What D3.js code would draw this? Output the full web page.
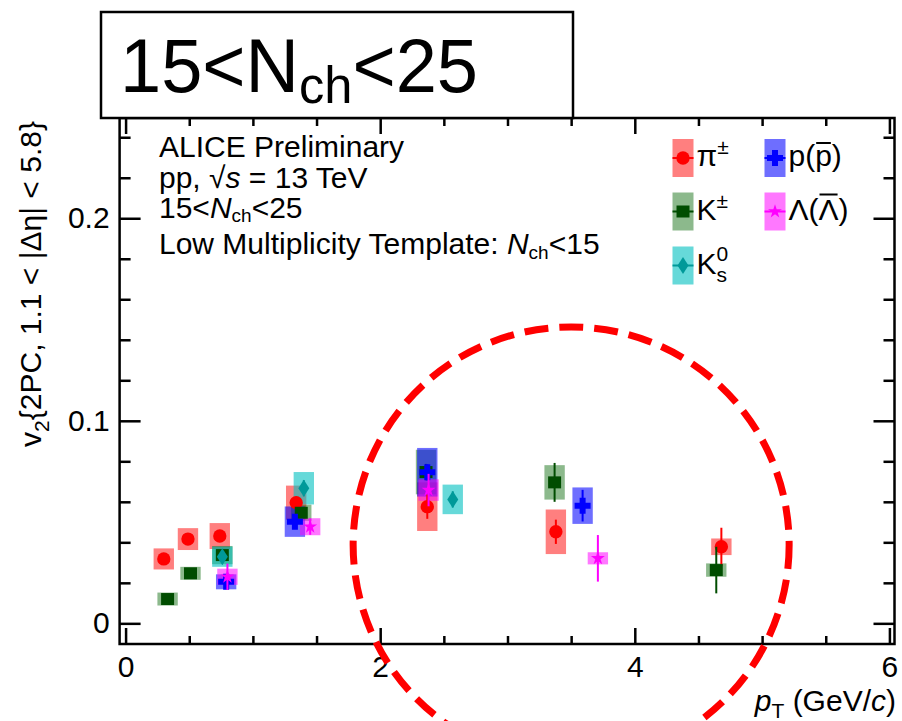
<!DOCTYPE html>
<html>
<head>
<meta charset="utf-8">
<script src="https://cdn.jsdelivr.net/npm/d3@7"></script>
<style>
  html, body { margin: 0; padding: 0; background: #fff; }
  svg { display: block; font-family: "Liberation Sans", Arial, Helvetica, sans-serif; }
</style>
</head>
<body>
<svg id="chart" width="902" height="721"></svg>
<script>
// ---- data: v2{2PC} vs pT for identified hadrons, 15<Nch<25 ----
const pionPt   = [0.30, 0.49, 0.74, 1.34, 2.37, 3.38, 4.68];
const pionV2   = [0.0318, 0.0416, 0.0431, 0.0596, 0.0576, 0.0452, 0.0378];
const pionStat = [0.0020, 0.0020, 0.0020, 0.0030, 0.0060, 0.0060, 0.0094];
const pionSys  = [0.0052, 0.0054, 0.0064, 0.0084, 0.0120, 0.0110, 0.0041];

const kaonPt   = [0.33, 0.51, 0.76, 1.38, 2.36, 3.37, 4.64];
const kaonV2   = [0.0120, 0.0247, 0.0337, 0.0546, 0.0747, 0.0696, 0.0263];
const kaonStat = [0.0010, 0.0010, 0.0015, 0.0020, 0.0040, 0.0096, 0.0115];
const kaonSys  = [0.0032, 0.0032, 0.0045, 0.0040, 0.0110, 0.0085, 0.0033];

const k0sPt    = [0.76, 1.40, 2.57];
const k0sV2    = [0.0329, 0.0667, 0.0612];
const k0sStat  = [0.0020, 0.0040, 0.0040];
const k0sSys   = [0.0050, 0.0080, 0.0073];

const protonPt   = [0.79, 1.33, 2.37, 3.59];
const protonV2   = [0.0205, 0.0502, 0.0746, 0.0581];
const protonStat = [0.0020, 0.0030, 0.0040, 0.0078];
const protonSys  = [0.0037, 0.0075, 0.0120, 0.0090];

const lambdaPt   = [0.80, 1.45, 2.38, 3.71];
const lambdaV2   = [0.0230, 0.0477, 0.0658, 0.0321];
const lambdaStat = [0.0065, 0.0040, 0.0080, 0.0115];
const lambdaSys  = [0.0040, 0.0042, 0.0053, 0.0030];

const xTickValues = [0, 2, 4, 6];
const xTickLabels = ["0", "2", "4", "6"];
const yTickValues = [0, 0.1, 0.2];
const yTickLabels = ["0", "0.1", "0.2"];

// region highlighted by the dashed ring (centre in pT, v2)
const ringCentre = [3.50, 0.0387];

// ---- layout ----
const svg = d3.select("#chart");
const frame = { left: 119.6, right: 894.5, top: 118, bottom: 644 };
const x = d3.scaleLinear().domain([-0.047, 6.04]).range([frame.left, frame.right]);
const y = d3.scaleLinear().domain([-0.0102, 0.2495]).range([frame.bottom, frame.top]);
const FS = 30;          // annotation font size
const sysHalfWidth = 0.08;

const series = [
  { pt: pionPt,   v2: pionV2,   stat: pionStat,   sys: pionSys,   color: "#ff0000", box: "#ff0000", op: 0.50, shape: "circle"  },
  { pt: kaonPt,   v2: kaonV2,   stat: kaonStat,   sys: kaonSys,   color: "#004d00", box: "#006400", op: 0.45, shape: "square"  },
  { pt: k0sPt,    v2: k0sV2,    stat: k0sStat,    sys: k0sSys,    color: "#009999", box: "#00c0c0", op: 0.60, shape: "diamond" },
  { pt: protonPt, v2: protonV2, stat: protonStat, sys: protonSys, color: "#0000ff", box: "#0000ff", op: 0.57, shape: "cross"   },
  { pt: lambdaPt, v2: lambdaV2, stat: lambdaStat, sys: lambdaSys, color: "#ff00ff", box: "#ff00ff", op: 0.53, shape: "star"    }
];

function markerPath(shape) {
  switch (shape) {
    case "circle":  return d3.symbol(d3.symbolCircle, 140)();
    case "square":  return "M-6.5,-6 H6.5 V6 H-6.5 Z";
    case "diamond": return "M0,-8.5 L5.5,0 L0,8.5 L-5.5,0 Z";
    case "cross":   return "M-3,-8 H3 V-3 H8 V3 H3 V8 H-3 V3 H-8 V-3 H-3 Z";
    case "star":    return d3.symbol(d3.symbolStar, 60)();
  }
}

// ---- systematic boxes (all drawn first) ----
const gBoxes = svg.append("g");
series.forEach(s => {
  gBoxes.selectAll(null).data(d3.range(s.pt.length)).join("rect")
    .attr("x", i => x(s.pt[i] - sysHalfWidth))
    .attr("width", i => x(s.pt[i] + sysHalfWidth) - x(s.pt[i] - sysHalfWidth))
    .attr("y", i => y(s.v2[i] + s.sys[i]))
    .attr("height", i => y(s.v2[i] - s.sys[i]) - y(s.v2[i] + s.sys[i]))
    .attr("fill", s.box).attr("fill-opacity", s.op);
});

// ---- statistical error bars and markers ----
const gPts = svg.append("g");
series.forEach(s => {
  const idx = d3.range(s.pt.length);
  gPts.selectAll(null).data(idx).join("line")
    .attr("x1", i => x(s.pt[i])).attr("x2", i => x(s.pt[i]))
    .attr("y1", i => y(s.v2[i] + s.stat[i])).attr("y2", i => y(s.v2[i] - s.stat[i]))
    .attr("stroke", s.color).attr("stroke-width", 2);
  gPts.selectAll(null).data(idx).join("path")
    .attr("d", markerPath(s.shape))
    .attr("transform", i => `translate(${x(s.pt[i])},${y(s.v2[i])})`)
    .attr("fill", s.color);
});

// ---- axes: ROOT style ticks on all four sides, pointing inward ----
function styleAxis(g) {
  g.select(".domain").remove();
  g.selectAll(".tick line").attr("stroke", "#000").attr("stroke-width", 2.5);
  g.selectAll(".tick text").attr("font-size", FS).attr("fill", "#000")
    .attr("font-family", "'Liberation Sans', Arial, sans-serif");
}
const xMinor = d3.range(0, 6.001, 0.5).filter(v => v % 2 !== 0);
const yMinor = d3.range(0, 0.2401, 0.02).map(v => +v.toFixed(2)).filter(v => Math.abs(v * 10 - Math.round(v * 10)) > 1e-6);

svg.append("g").attr("transform", `translate(0,${frame.bottom})`)
  .call(d3.axisBottom(x).tickValues(xTickValues).tickFormat((d, i) => xTickLabels[i]).tickSize(-16).tickPadding(12))
  .call(styleAxis);
svg.append("g").attr("transform", `translate(0,${frame.bottom})`)
  .call(d3.axisBottom(x).tickValues(xMinor).tickFormat("").tickSize(-8)).call(styleAxis);
svg.append("g").attr("transform", `translate(0,${frame.top})`)
  .call(d3.axisTop(x).tickValues(xTickValues).tickFormat("").tickSize(-16)).call(styleAxis);
svg.append("g").attr("transform", `translate(0,${frame.top})`)
  .call(d3.axisTop(x).tickValues(xMinor).tickFormat("").tickSize(-8)).call(styleAxis);

svg.append("g").attr("transform", `translate(${frame.left},0)`)
  .call(d3.axisLeft(y).tickValues(yTickValues).tickFormat((d, i) => yTickLabels[i]).tickSize(-21).tickPadding(10))
  .call(styleAxis);
svg.append("g").attr("transform", `translate(${frame.left},0)`)
  .call(d3.axisLeft(y).tickValues(yMinor).tickFormat("").tickSize(-11)).call(styleAxis);
svg.append("g").attr("transform", `translate(${frame.right},0)`)
  .call(d3.axisRight(y).tickValues(yTickValues).tickFormat("").tickSize(-21)).call(styleAxis);
svg.append("g").attr("transform", `translate(${frame.right},0)`)
  .call(d3.axisRight(y).tickValues(yMinor).tickFormat("").tickSize(-11)).call(styleAxis);

svg.append("rect")
  .attr("x", frame.left).attr("y", frame.top)
  .attr("width", frame.right - frame.left).attr("height", frame.bottom - frame.top)
  .attr("fill", "none").attr("stroke", "#000").attr("stroke-width", 2.5);

// ---- rich text helper (italic, sub- and superscripts) ----
function rich(sel, px, py, parts, size, anchor) {
  const t = sel.append("text").attr("x", px).attr("y", py)
    .attr("font-size", size).attr("text-anchor", anchor || "start").attr("fill", "#000");
  let shift = 0;
  parts.forEach(p => {
    const target = p.sub ? p.sub : (p.sup ? -p.sup : 0);
    const ts = t.append("tspan").text(p.t).attr("dy", target - shift);
    shift = target;
    if (p.size) ts.attr("font-size", p.size);
    if (p.it) ts.attr("font-style", "italic");
    if (p.dx) ts.attr("dx", p.dx);
  });
  return t;
}
const SUB = Math.round(FS * 0.7);

// axis titles
rich(svg, 896, 711, [
  { t: "p", it: true }, { t: "T", sub: 7, size: SUB }, { t: " (GeV/" }, { t: "c", it: true }, { t: ")" }
], FS, "end");

rich(svg.append("g").attr("transform", "translate(41,284) rotate(-90)"), 0, 0, [
  { t: "v" }, { t: "2", sub: 8, size: SUB }, { t: "{2PC, 1.1 < |\u0394\u03b7| < 5.8}" }
], FS, "middle");

// ---- annotation block ----
const gTxt = svg.append("g");
rich(gTxt, 159, 157, [{ t: "ALICE Preliminary" }], FS);
rich(gTxt, 159, 188, [{ t: "pp, " }, { t: "\u221a" }, { t: "s", it: true }, { t: " = 13 TeV" }], FS);
rich(gTxt, 159, 218, [{ t: "15<" }, { t: "N", it: true }, { t: "ch", sub: 4, size: 19 }, { t: "<25" }], FS);
rich(gTxt, 159, 254, [{ t: "Low Multiplicity Template: " }, { t: "N", it: true }, { t: "ch", sub: 5, size: 19 }, { t: "<15" }], FS);

// ---- legend ----
const legend = [
  { s: series[0], bx: 672.5, by: 139,   parts: [{ t: "\u03c0" }, { t: "\u00b1", sup: 12, size: SUB }] },
  { s: series[1], bx: 672.5, by: 192.5, parts: [{ t: "K" }, { t: "\u00b1", sup: 12, size: SUB }] },
  { s: series[2], bx: 672.5, by: 246.5, parts: [{ t: "K" }, { t: "0", sup: 13, size: SUB }, { t: "s", sub: 8, size: SUB, dx: -11.7 }] },
  { s: series[3], bx: 764.5, by: 139,   parts: [{ t: "p(p)" }], bar: 2 },
  { s: series[4], bx: 764.5, by: 192.5, parts: [{ t: "\u039b(\u039b)" }], bar: 2 }
];
const gLeg = svg.append("g");
const bw = 21, bh = 38;
legend.forEach(L => {
  gLeg.append("rect").attr("x", L.bx).attr("y", L.by).attr("width", bw).attr("height", bh)
    .attr("fill", L.s.box).attr("fill-opacity", L.s.op);
  const cx = L.bx + bw / 2, cy = L.by + bh / 2;
  gLeg.append("line").attr("x1", L.bx).attr("x2", L.bx + bw).attr("y1", cy).attr("y2", cy)
    .attr("stroke", L.s.color).attr("stroke-width", 2);
  gLeg.append("path").attr("d", markerPath(L.s.shape))
    .attr("transform", `translate(${cx},${cy})`).attr("fill", L.s.color);
  const t = rich(gLeg, L.bx + bw + 3, L.by + 27, L.parts, FS);
  if (L.bar !== undefined) {
    const node = t.node();
    const a = node.getStartPositionOfChar(L.bar), b = node.getEndPositionOfChar(L.bar);
    const topY = L.by + 27 - (L.s === series[3] ? 23 : 25);
    gLeg.append("line").attr("x1", a.x + 1).attr("x2", b.x - 1).attr("y1", topY).attr("y2", topY)
      .attr("stroke", "#000").attr("stroke-width", 2);
  }
});

// ---- heading box ----
svg.append("rect").attr("x", 101).attr("y", 12).attr("width", 472).attr("height", 106)
  .attr("fill", "#fff").attr("stroke", "#000").attr("stroke-width", 2.5);
rich(svg, 120, 92, [{ t: "15<N" }, { t: "ch", sub: 11, size: 52 }, { t: "<25" }], 76)
  .attr("textLength", 358).attr("lengthAdjust", "spacingAndGlyphs");

// ---- dashed ring around the high-pT region ----
svg.append("circle")
  .attr("cx", x(ringCentre[0])).attr("cy", y(ringCentre[1])).attr("r", 218)
  .attr("fill", "none").attr("stroke", "#ff0000").attr("stroke-width", 7)
  .attr("stroke-dasharray", "24 11");
</script>
</body>
</html>
